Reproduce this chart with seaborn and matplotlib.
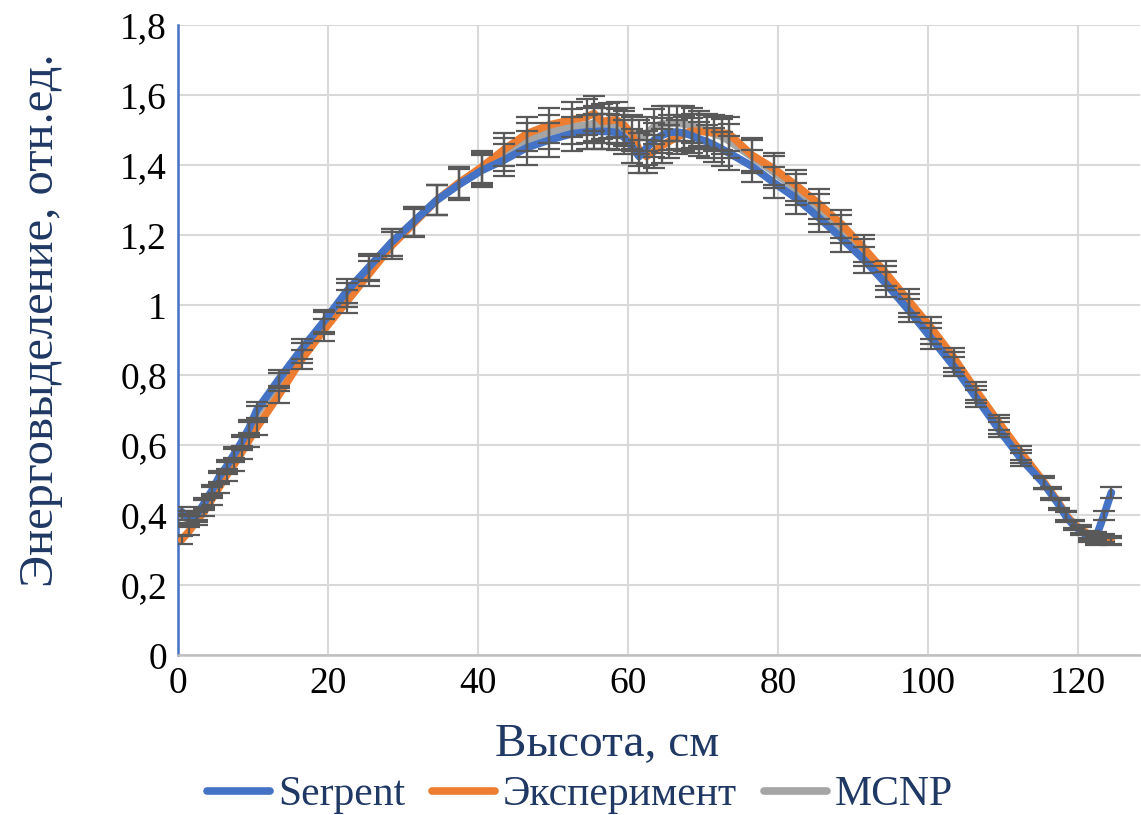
import matplotlib
matplotlib.use("Agg")
import matplotlib.pyplot as plt
import seaborn as sns
import pandas as pd

# height, cm
height = [0.5, 1.5, 2.5, 3.5, 4.5, 5.5, 6.5, 7.5, 8.5, 9.5, 10.5, 13.5, 16.5, 19.5,
          22.5, 25.5, 28.5, 31.5, 34.5, 37.5, 40.5, 43.5, 46.5, 49.5, 52.5, 54.5,
          55.5, 56.5, 57.5, 58.5, 59.5, 60.5, 61.5, 62.5, 63.5, 64.5, 65.5, 66.5,
          67.5, 68.5, 69.5, 70.5, 71.5, 72.5, 73.5, 76.5, 79.5, 82.5, 85.5, 88.5,
          91.5, 94.5, 97.5, 100.5, 103.5, 106.5, 109.5, 112.5, 115.5, 116.5, 117.5,
          118.5, 119.5, 120.5, 121.5, 122.5, 123.5, 124.5]

serpent = [0.41, 0.39, 0.40, 0.435, 0.47, 0.51, 0.54, 0.575, 0.61, 0.65, 0.70, 0.79,
           0.875, 0.955, 1.04, 1.11, 1.18, 1.24, 1.30, 1.345, 1.385, 1.415, 1.45,
           1.472, 1.49, 1.495, 1.497, 1.497, 1.496, 1.494, 1.48, 1.455, 1.425, 1.45,
           1.472, 1.485, 1.494, 1.495, 1.492, 1.485, 1.475, 1.468, 1.458, 1.447,
           1.435, 1.398, 1.35, 1.305, 1.25, 1.192, 1.13, 1.06, 0.985, 0.905, 0.825,
           0.735, 0.645, 0.56, 0.49, 0.46, 0.43, 0.395, 0.37, 0.355, 0.335, 0.34,
           0.40, 0.465]

experiment = [0.33, 0.355, 0.385, 0.41, 0.445, 0.48, 0.515, 0.545, 0.58, 0.615, 0.65,
              0.745, 0.845, 0.93, 1.01, 1.09, 1.17, 1.235, 1.30, 1.35, 1.395, 1.445,
              1.49, 1.515, 1.53, 1.538, 1.548, 1.525, 1.528, 1.53, 1.515, 1.49, 1.445,
              1.425, 1.44, 1.455, 1.468, 1.48, 1.49, 1.498, 1.497, 1.495, 1.493,
              1.492, 1.49, 1.43, 1.39, 1.342, 1.29, 1.232, 1.163, 1.09, 1.012, 0.935,
              0.85, 0.755, 0.665, 0.578, 0.495, 0.465, 0.435, 0.40, 0.375, 0.36,
              0.345, 0.325, 0.33, 0.325]

mcnp = [0.40, 0.385, 0.395, 0.43, 0.465, 0.505, 0.535, 0.57, 0.605, 0.645, 0.69, 0.78,
        0.865, 0.95, 1.03, 1.105, 1.18, 1.24, 1.30, 1.35, 1.39, 1.43, 1.472, 1.495,
        1.51, 1.515, 1.52, 1.515, 1.515, 1.512, 1.505, 1.495, 1.48, 1.49, 1.51,
        1.518, 1.52, 1.52, 1.518, 1.513, 1.505, 1.498, 1.49, 1.482, 1.47, 1.425,
        1.38, 1.33, 1.275, 1.218, 1.15, 1.078, 1.0, 0.92, 0.838, 0.745, 0.655,
        0.568, 0.492, 0.462, 0.432, 0.398, 0.372, 0.357, 0.34, 0.33, 0.335, 0.33]

series_names = ["Serpent", "Эксперимент", "MCNP"]
series_colors = ["#4472C4", "#ED7D31", "#A5A5A5"]
err_frac = 0.033

sns.set_style("white")
plt.rcParams['font.family'] = ['Liberation Serif', 'DejaVu Serif']

fig = plt.figure(figsize=(11.41, 8.15), dpi=100)
ax = fig.add_axes([0.156, 0.196, 0.843, 0.773])

# draw MCNP first so Serpent stays on top
for name, vals, col, z in [("MCNP", mcnp, series_colors[2], 3),
                           ("Эксперимент", experiment, series_colors[1], 3.1),
                           ("Serpent", serpent, series_colors[0], 3.2)]:
    d = pd.DataFrame({"x": height, "y": vals})
    sns.lineplot(data=d, x="x", y="y", color=col, linewidth=5.5, ax=ax,
                 label=name, zorder=z)

for vals in (serpent, experiment, mcnp):
    ax.errorbar(height, vals, yerr=[v * err_frac for v in vals], fmt="none",
                ecolor="#595959", elinewidth=1.6, capsize=8, capthick=1.6, zorder=4)

ax.set_xlim(0, 128.3)
ax.set_ylim(0, 1.8)
ax.set_xticks(range(0, 121, 20))
ax.set_yticks([i * 0.2 for i in range(10)])
ax.set_yticklabels(["0", "0,2", "0,4", "0,6", "0,8", "1", "1,2", "1,4", "1,6", "1,8"])
ax.tick_params(axis="both", length=0, labelsize=27, colors="black", pad=8)
ax.grid(True, color="#D9D9D9", linewidth=1.5)
ax.set_axisbelow(True)

for side in ("top", "right"):
    ax.spines[side].set_visible(False)
ax.spines["left"].set_color("#4472C4")
ax.spines["left"].set_linewidth(1.8)
ax.spines["bottom"].set_color("#BFBFBF")
ax.spines["bottom"].set_linewidth(1.8)

ax.set_xlabel("Высота, см", fontsize=34, color="#1F3864")
ax.set_ylabel("Энерговыделение, отн.ед.", fontsize=35, color="#1F3864")
ax.xaxis.set_label_coords(0.446, -0.108)
ax.yaxis.set_label_coords(-0.12, 0.532)

handles, labels = ax.get_legend_handles_labels()
order = [labels.index(n) for n in series_names]
leg = ax.legend([handles[i] for i in order], [labels[i] for i in order],
                loc="center", bbox_to_anchor=(0.418, -0.222),
                ncol=3, frameon=False, fontsize=30, handlelength=1.5,
                columnspacing=0.65, handletextpad=0.2, borderaxespad=0)
for t in leg.get_texts():
    t.set_color("#1F3864")

plt.savefig("out.png", dpi=100)
